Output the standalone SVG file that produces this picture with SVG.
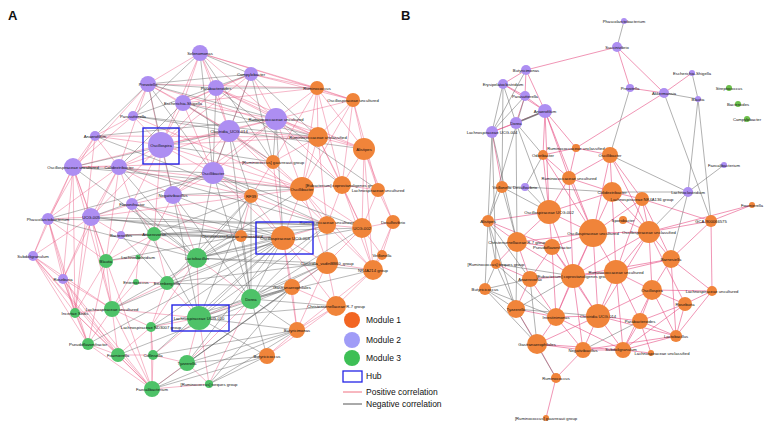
<svg xmlns="http://www.w3.org/2000/svg" width="767" height="426" viewBox="0 0 767 426">
<style>
.p{fill:none;stroke:#ec6088;stroke-width:0.7;opacity:0.65}
.n{fill:none;stroke:#666;stroke-width:0.7;opacity:0.65}
.pb{fill:none;stroke:#e8588a;stroke-width:0.8;opacity:0.8}
.nb{fill:none;stroke:#6a6a6a;stroke-width:0.7;opacity:0.75}
.o{fill:#f0843a}
.v{fill:#ad8ef2}
.g{fill:#4ec268}
.gb{fill:#6cc04a}
.t{font-family:"Liberation Sans",Arial,sans-serif;font-size:4.2px;fill:#111;text-anchor:middle}
.hub{fill:none;stroke:#2424e6;stroke-width:1.4}
.lt{font-family:"Liberation Sans",Arial,sans-serif;font-size:8.5px;fill:#111}
.pl{font-family:"Liberation Sans",Arial,sans-serif;font-size:13px;font-weight:bold;fill:#111}
</style>
<rect width="767" height="426" fill="#fff"/>
<text class="pl" x="8" y="20">A</text>
<text class="pl" x="401" y="20">B</text>
<g id="connectors">
<path class="p" d="M200 53L148 84M200 53L183 103M200 53L229 131M200 53L276 119M200 53L161 145M251 74L216 88M251 74L229 131M251 74L276 119M251 74L183 103M216 88L183 103M216 88L161 145M216 88L229 131M216 88L276 119M148 84L183 103M148 84L133 116M148 84L161 145M148 84L229 131M148 84L119 167M183 103L161 145M183 103L229 131M183 103L276 119M183 103L213 173M133 116L161 145M133 116L95 136M133 116L73 167M95 136L161 145M95 136L73 167M95 136L119 167M161 145L229 131M161 145L119 167M161 145L173 195M161 145L213 173M161 145L132 204M161 145L91 217M161 145L276 119M229 131L276 119M229 131L213 173M229 131L173 195M276 119L213 173M276 119L173 195M73 167L119 167M73 167L91 217M73 167L48 219M73 167L161 145M119 167L91 217M119 167L132 204M119 167L173 195M48 219L91 217M48 219L33 256M48 219L119 167M91 217L132 204M91 217L33 256M91 217L63 279M173 195L132 204M173 195L213 173M132 204L121 235M121 235L91 217M33 256L63 279M63 279L119 167M48 219L63 279M73 167L33 256M73 167L63 279M95 136L48 219M229 131L119 167M251 74L161 145M148 84L73 167M200 53L216 88"/>
<path class="p" d="M317 88L353 100M317 88L318 137M317 88L364 149M317 88L302 189M317 88L342 185M353 100L318 137M353 100L364 149M353 100L342 185M353 100L378 190M318 137L364 149M318 137L302 189M318 137L342 185M318 137L327 225M318 137L273 162M364 149L342 185M364 149L378 190M364 149L362 228M364 149L393 222M273 162L302 189M273 162L283 238M273 162L251 196M251 196L302 189M251 196L283 238M251 196L327 225M302 189L342 185M302 189L327 225M302 189L283 238M302 189L362 228M302 189L327 263M342 185L378 190M342 185L327 225M342 185L362 228M342 185L373 270M378 190L393 222M378 190L362 228M393 222L362 228M393 222L373 270M393 222L382 255M327 225L362 228M327 225L283 238M327 225L327 263M327 225L373 270M362 228L373 270M362 228L327 263M362 228L382 255M283 238L327 263M283 238L292 287M283 238L241 236M327 263L373 270M327 263L336 306M327 263L292 287M373 270L336 306M373 270L382 255M292 287L336 306M292 287L297 330M336 306L297 330M336 306L267 356M297 330L267 356M283 238L297 330M241 236L251 196M302 189L373 270M318 137L362 228M364 149L373 270M353 100L302 189M317 88L273 162M373 270L297 330M327 263L297 330M283 238L336 306"/>
<path class="p" d="M200 53L317 88M251 74L317 88M251 74L353 100M216 88L318 137M229 131L318 137M276 119L317 88M276 119L318 137M276 119L364 149M276 119L302 189M276 119L342 185M229 131L302 189M229 131L273 162M213 173L251 196M213 173L302 189M183 103L317 88M148 84L318 137M161 145L318 137M161 145L302 189M216 88L364 149M200 53L353 100M276 119L353 100M229 131L327 225M213 173L283 238M173 195L251 196M119 167L251 196M132 204L241 236M133 116L302 189M73 167L273 162M95 136L318 137M119 167L302 189M91 217L251 196M148 84L317 88"/>
<path class="p" d="M199 318L251 299M199 318L197 258M199 318L167 283M199 318L151 327M199 318L187 363M199 318L209 384M199 318L112 309M251 299L197 258M251 299L209 384M197 258L154 234M197 258L167 283M154 234L106 261M154 234L138 257M154 234L167 283M106 261L138 257M106 261L112 309M106 261L75 313M138 257L136 282M136 282L167 283M136 282L112 309M167 283L151 327M112 309L75 313M112 309L151 327M112 309L88 344M112 309L118 355M75 313L88 344M75 313L118 355M151 327L153 355M151 327L118 355M88 344L118 355M88 344L152 389M118 355L153 355M118 355L152 389M153 355L187 363M153 355L152 389M187 363L152 389M187 363L209 384M152 389L209 384M75 313L152 389M197 258L151 327M251 299L187 363M106 261L88 344M112 309L152 389M151 327L152 389M167 283L112 309M199 318L153 355M154 234L112 309"/>
<path class="p" d="M33 256L75 313M33 256L88 344M33 256L152 389M63 279L75 313M63 279L112 309M63 279L88 344M48 219L106 261M91 217L106 261M91 217L112 309M121 235L106 261M121 235L154 234M132 204L154 234M119 167L106 261M73 167L112 309M73 167L75 313M73 167L152 389M95 136L75 313M48 219L75 313M33 256L112 309M63 279L152 389M63 279L118 355M48 219L88 344M173 195L154 234M173 195L197 258M161 145L154 234M91 217L75 313M33 256L118 355"/>
<path class="n" d="M200 53L251 74M148 84L276 119M251 74L148 84M216 88L148 84M183 103L318 137M216 88L317 88M251 74L273 162M148 84L213 173M133 116L229 131M161 145L273 162M229 131L251 196M73 167L213 173M73 167L229 131M91 217L213 173M48 219L213 173M95 136L276 119M73 167L302 189M133 116L318 137M251 74L213 173M200 53L213 173M216 88L342 185M183 103L273 162M229 131L364 149M276 119L378 190M213 173L362 228M173 195L302 189M213 173L327 225M91 217L283 238M173 195L283 238M132 204L283 238M121 235L283 238M119 167L327 225M91 217L241 236M48 219L327 225M121 235L362 228M91 217L327 225M200 53L133 116M251 74L133 116M148 84L95 136M148 84L173 195M183 103L119 167M216 88L213 173M276 119L273 162M251 74L318 137M200 53L273 162M119 167L197 258M73 167L197 258M48 219L197 258M132 204L197 258M121 235L167 283M95 136L251 196"/>
<path class="n" d="M251 299L283 238M251 299L327 225M251 299L327 263M251 299L292 287M251 299L251 196M251 299L241 236M199 318L283 238M199 318L327 263M199 318L292 287M199 318L251 196M197 258L283 238M197 258L302 189M197 258L327 225M197 258L241 236M197 258L251 196M154 234L241 236M154 234L251 196M167 283L283 238M167 283L292 287M187 363L283 238M187 363L292 287M187 363L267 356M209 384L267 356M209 384L297 330M209 384L292 287M151 327L283 238M153 355L283 238M152 389L267 356M152 389L297 330M118 355L292 287M112 309L241 236M197 258L327 263M251 299L373 270M251 299L336 306M199 318L336 306M187 363L327 263M197 258L373 270M154 234L283 238M167 283L327 263M199 318L297 330M251 299L297 330M251 299L267 356M197 258L362 228M154 234L327 225M112 309L283 238M151 327L292 287M153 355L297 330M199 318L267 356M187 363L297 330M167 283L251 196M106 261L241 236M152 389L292 287M88 344L283 238M251 299L362 228M199 318L327 225M173 195L251 299M213 173L251 299M213 173L197 258M229 131L251 299M276 119L283 238M132 204L199 318M173 195L199 318"/>
<path class="pb" d="M617 47L526 70M617 47L630 88M617 47L664 93M630 88L664 93M664 93L692 73M664 93L576 148M526 70L545 111M526 70L525 96M526 70L503 84M503 84L525 96M503 84L545 111M525 96L516 123M525 96L545 111M516 123L492 132M545 111L492 132M545 111L569 178M545 111L549 212M545 111L543 155M545 111L593 233M545 111L576 148M492 132L502 187"/>
<path class="pb" d="M576 148L543 155M576 148L610 155M576 148L569 178M543 155L569 178M543 155L549 212M610 155L612 192M610 155L569 178M610 155L593 233M610 155L642 199M569 178L549 212M569 178L593 233M569 178L612 192M612 192L593 233M612 192L642 199M612 192L649 232M612 192L549 212M549 212L593 233M549 212L517 242M549 212L552 247M549 212L488 221M488 221L517 242M488 221L552 247M593 233L552 247M593 233L649 232M593 233L573 276M593 233L616 272M593 233L642 199M593 233L517 242M517 242L552 247M517 242L530 279M517 242L573 276M517 242L496 264M552 247L573 276M552 247L530 279M552 247L556 317M642 199L649 232M642 199L711 221M711 221L752 205M711 221L649 232M711 221L712 291M623 220L649 232M649 232L671 259M649 232L616 272M671 259L616 272M671 259L652 290M671 259L712 291M649 232L652 290M573 276L616 272M573 276L556 317M573 276L598 316M573 276L530 279M616 272L598 316M616 272L652 290M616 272L640 321M530 279L516 309M530 279L556 317M516 309L556 317M516 309L537 344M556 317L598 316M556 317L537 344M556 317L583 350M598 316L652 290M598 316L640 321M598 316L583 350M598 316L623 350M652 290L685 304M652 290L640 321M712 291L685 304M712 291L652 290M685 304L640 321M685 304L676 336M640 321L676 336M640 321L623 350M640 321L651 353M676 336L623 350M623 350L651 353M623 350L583 350M537 344L583 350M537 344L556 378M583 350L556 378M556 378L546 418M496 264L530 279M671 259L573 276M649 232L573 276M652 290L676 336M712 291L676 336M752 205L649 232M593 233L598 316M593 233L556 317M549 212L573 276M552 247L598 316M573 276L583 350M616 272L623 350M598 316L537 344M537 344L623 350M685 304L623 350M676 336L583 350M652 290L623 350M556 317L623 350M598 316L676 336M671 259L676 336M642 199L671 259M642 199L616 272M612 192L616 272M610 155L649 232M543 155L593 233M569 178L573 276M711 221L671 259M649 232L685 304M649 232L598 316"/>
<path class="nb" d="M624 21L617 47M664 93L698 99M692 73L698 99M630 88L610 155M664 93L711 221M698 99L688 192M503 84L492 132M503 84L516 123M525 96L492 132M526 70L492 132M492 132L488 221M503 84L502 187M516 123L543 155M516 123L549 212M516 123L517 242M492 132L517 242M525 96L488 221M688 192L724 165M688 192L610 155M688 192L649 232M688 192L671 259M688 192L612 192M525 187L543 155M525 187L612 192M525 187L502 187M525 187L549 212M502 187L488 221M502 187L517 242M502 187L549 212M488 221L496 264M488 221L485 289M496 264L485 289M485 289L516 309M485 289L537 344M496 264L573 276M485 289L530 279M516 309L573 276M516 309L598 316M556 378L516 309M485 289L556 317M496 264L516 309M488 221L516 309M496 264L556 317M640 321L583 350M698 99L711 221M488 221L530 279M492 132L496 264M517 242L516 309M530 279L537 344"/>
<path d="M545 111L516 123" fill="none" stroke="#666" stroke-width="1.6" opacity="0.8"/>
</g>
<g id="nodes-a">
<g id="a1"><circle class="v" cx="200" cy="53" r="8"/><text class="t" x="200" y="54.5">Selenomonas</text></g>
<g id="a2"><circle class="v" cx="251" cy="74" r="7"/><text class="t" x="251" y="75.5">Campylobacter</text></g>
<g id="a3"><circle class="v" cx="216" cy="88" r="8"/><text class="t" x="216" y="89.5">Parabacteroides</text></g>
<g id="a4"><circle class="v" cx="148" cy="84" r="8"/><text class="t" x="148" y="85.5">Prevotella</text></g>
<g id="a5"><circle class="v" cx="183" cy="103" r="8"/><text class="t" x="183" y="104.5">Escherichia-Shigella</text></g>
<g id="a6"><circle class="v" cx="133" cy="116" r="5"/><text class="t" x="133" y="117.5">Parasutterella</text></g>
<g id="a7"><circle class="v" cx="95" cy="136" r="5"/><text class="t" x="95" y="137.5">Anaerofilum</text></g>
<g id="a8"><circle class="v" cx="161" cy="145" r="13"/><text class="t" x="161" y="146.5">Oscillospira</text><rect class="hub" x="143" y="128" width="36" height="36"/></g>
<g id="a9"><circle class="v" cx="229" cy="131" r="11"/><text class="t" x="229" y="132.5">Clostridia_UCG-014</text></g>
<g id="a10"><circle class="v" cx="276" cy="119" r="11"/><text class="t" x="276" y="120.5">Ruminococcaceae uncultured</text></g>
<g id="a11"><circle class="v" cx="73" cy="167" r="9"/><text class="t" x="73" y="168.5">Oscillospiraceae uncultured</text></g>
<g id="a12"><circle class="v" cx="119" cy="167" r="8"/><text class="t" x="119" y="168.5">Colidextribacter</text></g>
<g id="a13"><circle class="v" cx="48" cy="219" r="6"/><text class="t" x="48" y="220.5">Phascolarctobacterium</text></g>
<g id="a14"><circle class="v" cx="91" cy="217" r="9"/><text class="t" x="91" y="218.5">UCG-005</text></g>
<g id="a15"><circle class="v" cx="173" cy="195" r="9"/><text class="t" x="173" y="196.5">Negativibacillus</text></g>
<g id="a16"><circle class="v" cx="132" cy="204" r="6"/><text class="t" x="132" y="205.5">Flavonifractor</text></g>
<g id="a17"><circle class="v" cx="121" cy="235" r="4"/><text class="t" x="121" y="236.5">Bacteroides</text></g>
<g id="a18"><circle class="v" cx="33" cy="256" r="5"/><text class="t" x="33" y="257.5">Subdoligranulum</text></g>
<g id="a19"><circle class="v" cx="63" cy="279" r="5"/><text class="t" x="63" y="280.5">Roseburia</text></g>
<g id="a20"><circle class="v" cx="213" cy="173" r="11"/><text class="t" x="213" y="174.5">Oscillibacter</text></g>
<g id="b1"><circle class="o" cx="317" cy="88" r="7"/><text class="t" x="317" y="89.5">Ruminococcus</text></g>
<g id="b2"><circle class="o" cx="353" cy="100" r="7"/><text class="t" x="353" y="101.5">Oscillospiraceae uncultured</text></g>
<g id="b3"><circle class="o" cx="318" cy="137" r="10"/><text class="t" x="318" y="138.5">Ruminococcaceae unclassified</text></g>
<g id="b4"><circle class="o" cx="364" cy="149" r="11"/><text class="t" x="364" y="150.5">Alistipes</text></g>
<g id="b5"><circle class="o" cx="273" cy="162" r="7"/><text class="t" x="273" y="163.5">[Ruminococcus] gauvreauii group</text></g>
<g id="b6"><circle class="o" cx="251" cy="196" r="7"/><text class="t" x="251" y="197.5">RF39</text></g>
<g id="b7"><circle class="o" cx="302" cy="189" r="12"/><text class="t" x="302" y="190.5">Oscillibacter</text></g>
<g id="b8"><circle class="o" cx="342" cy="185" r="9"/><text class="t" x="342" y="186.5">[Eubacterium] coprostanoligenes group</text></g>
<g id="b9"><circle class="o" cx="378" cy="190" r="7"/><text class="t" x="378" y="191.5">Lachnospiraceae uncultured</text></g>
<g id="b10"><circle class="o" cx="393" cy="222" r="7"/><text class="t" x="393" y="223.5">Desulfovibrio</text></g>
<g id="b11"><circle class="o" cx="327" cy="225" r="9"/><text class="t" x="327" y="224">Ruminococcaceae uncultured</text></g>
<g id="b12"><circle class="o" cx="362" cy="228" r="10"/><text class="t" x="362" y="229.5">UCG-002</text></g>
<g id="b13"><circle class="o" cx="283" cy="238" r="12"/><text class="t" x="285" y="239.5">Oscillospiraceae UCG-003</text><rect class="hub" x="256" y="222" width="57" height="32"/></g>
<g id="b14"><circle class="o" cx="241" cy="236" r="6"/><text class="t" x="232" y="237.5">Christensenellaceae unclassified</text></g>
<g id="b15"><circle class="o" cx="327" cy="263" r="11"/><text class="t" x="327" y="264.5">Clostridia_vadinBB60_group</text></g>
<g id="b16"><circle class="o" cx="373" cy="270" r="10"/><text class="t" x="373" y="271.5">NK4A214 group</text></g>
<g id="b17"><circle class="o" cx="292" cy="287" r="8"/><text class="t" x="292" y="288.5">Gastranaerophilales</text></g>
<g id="b18"><circle class="o" cx="336" cy="306" r="10"/><text class="t" x="336" y="307.5">Christensenellaceae R-7 group</text></g>
<g id="b19"><circle class="o" cx="297" cy="330" r="8"/><text class="t" x="297" y="331.5">Butyricimonas</text></g>
<g id="b20"><circle class="o" cx="267" cy="356" r="8"/><text class="t" x="267" y="357.5">Butyricicoccus</text></g>
<g id="b21"><circle class="o" cx="382" cy="255" r="5"/><text class="t" x="382" y="256.5">Veillonella</text></g>
<g id="c1"><circle class="g" cx="199" cy="318" r="12"/><text class="t" x="199" y="319.5">Lachnospiraceae UCG-010</text><rect class="hub" x="172" y="305" width="57" height="26"/></g>
<g id="c2"><circle class="g" cx="251" cy="299" r="10"/><text class="t" x="251" y="300.5">Dorea</text></g>
<g id="c3"><circle class="g" cx="197" cy="258" r="10"/><text class="t" x="197" y="259.5">Lactobacillus</text></g>
<g id="c4"><circle class="g" cx="154" cy="234" r="7"/><text class="t" x="154" y="235.5">Anaerovorax</text></g>
<g id="c5"><circle class="g" cx="106" cy="261" r="7"/><text class="t" x="106" y="262.5">Blautia</text></g>
<g id="c6"><circle class="g" cx="138" cy="257" r="2.5"/><text class="t" x="138" y="258.5">Lachnoclostridium</text></g>
<g id="c7"><circle class="g" cx="136" cy="282" r="3"/><text class="t" x="136" y="283.5">Enterococcus</text></g>
<g id="c8"><circle class="g" cx="167" cy="283" r="7"/><text class="t" x="167" y="284.5">Eisenbergiella</text></g>
<g id="c9"><circle class="g" cx="112" cy="309" r="8"/><text class="t" x="112" y="310.5">Lachnospiraceae uncultured</text></g>
<g id="c10"><circle class="g" cx="75" cy="313" r="5"/><text class="t" x="75" y="314.5">Incertae Sedis</text></g>
<g id="c11"><circle class="g" cx="151" cy="327" r="5"/><text class="t" x="151" y="328.5">Lachnospiraceae ND3007 group</text></g>
<g id="c12"><circle class="g" cx="88" cy="344" r="6"/><text class="t" x="88" y="345.5">Pseudoflavonifractor</text></g>
<g id="c13"><circle class="g" cx="118" cy="355" r="7"/><text class="t" x="118" y="356.5">Fournierella</text></g>
<g id="c14"><circle class="g" cx="153" cy="355" r="5"/><text class="t" x="153" y="356.5">Collinsella</text></g>
<g id="c15"><circle class="g" cx="187" cy="363" r="8"/><text class="t" x="187" y="364.5">Tyzzerella</text></g>
<g id="c16"><circle class="g" cx="152" cy="389" r="8"/><text class="t" x="152" y="390.5">Faecalibacterium</text></g>
<g id="c17"><circle class="g" cx="209" cy="384" r="4"/><text class="t" x="209" y="385.5">[Ruminococcus] torques group</text></g>
</g>
<g id="nodes-b">
<g id="d1"><circle class="v" cx="624" cy="21" r="3"/><text class="t" x="624" y="22.5">Phascolarctobacterium</text></g>
<g id="d2"><circle class="v" cx="617" cy="47" r="5"/><text class="t" x="617" y="48.5">Succinivibrio</text></g>
<g id="d3"><circle class="v" cx="526" cy="70" r="5"/><text class="t" x="526" y="71.5">Butyricimonas</text></g>
<g id="d4"><circle class="v" cx="503" cy="84" r="5"/><text class="t" x="503" y="85.5">Erysipelatoclostridium</text></g>
<g id="d5"><circle class="v" cx="525" cy="96" r="5"/><text class="t" x="525" y="97.5">Parasutterella</text></g>
<g id="d6"><circle class="v" cx="545" cy="111" r="7"/><text class="t" x="545" y="112.5">Anaerofilum</text></g>
<g id="d7"><circle class="v" cx="516" cy="123" r="6"/><text class="t" x="516" y="124.5">Dorea</text></g>
<g id="d8"><circle class="v" cx="492" cy="132" r="6"/><text class="t" x="492" y="133.5">Lachnospiraceae UCG-004</text></g>
<g id="d9"><circle class="v" cx="630" cy="88" r="4"/><text class="t" x="630" y="89.5">Prevotella</text></g>
<g id="d10"><circle class="v" cx="692" cy="73" r="3"/><text class="t" x="692" y="74.5">Escherichia-Shigella</text></g>
<g id="d11"><circle class="v" cx="664" cy="93" r="5"/><text class="t" x="664" y="94.5">Akkermansia</text></g>
<g id="d12"><circle class="v" cx="698" cy="99" r="3"/><text class="t" x="698" y="100.5">Blautia</text></g>
<g id="d13"><circle class="gb" cx="729" cy="88" r="3"/><text class="t" x="729" y="89.5">Streptococcus</text></g>
<g id="d14"><circle class="gb" cx="738" cy="104" r="3"/><text class="t" x="738" y="105.5">Bacteroides</text></g>
<g id="d15"><circle class="gb" cx="747" cy="119" r="3"/><text class="t" x="747" y="120.5">Campylobacter</text></g>
<g id="d16"><circle class="v" cx="525" cy="187" r="4"/><text class="t" x="525" y="188.5">Desulfovibrio</text></g>
<g id="d17"><circle class="v" cx="688" cy="192" r="5"/><text class="t" x="688" y="193.5">Lachnoclostridium</text></g>
<g id="d18"><circle class="v" cx="724" cy="165" r="3"/><text class="t" x="724" y="166.5">Faecalibacterium</text></g>
<g id="e1"><circle class="o" cx="576" cy="148" r="4"/><text class="t" x="576" y="149.5">Ruminococcaceae unclassified</text></g>
<g id="e2"><circle class="o" cx="543" cy="155" r="5"/><text class="t" x="543" y="156.5">Odoribacter</text></g>
<g id="e3"><circle class="o" cx="610" cy="155" r="8"/><text class="t" x="610" y="156.5">Oscillibacter</text></g>
<g id="e4"><circle class="o" cx="569" cy="178" r="7"/><text class="t" x="569" y="179.5">Ruminococcaceae uncultured</text></g>
<g id="e5"><circle class="o" cx="502" cy="187" r="6"/><text class="t" x="502" y="188.5">Veillonella</text></g>
<g id="e6"><circle class="o" cx="612" cy="192" r="10"/><text class="t" x="612" y="193.5">Colidextribacter</text></g>
<g id="e7"><circle class="o" cx="549" cy="212" r="12"/><text class="t" x="549" y="213.5">Oscillospiraceae UCG-002</text></g>
<g id="e8"><circle class="o" cx="488" cy="221" r="6"/><text class="t" x="488" y="222.5">Alistipes</text></g>
<g id="e9"><circle class="o" cx="593" cy="233" r="14"/><text class="t" x="593" y="234.5">Oscillospiraceae uncultured</text></g>
<g id="e10"><circle class="o" cx="517" cy="242" r="10"/><text class="t" x="517" y="243.5">Christensenellaceae R-7 group</text></g>
<g id="e11"><circle class="o" cx="552" cy="247" r="8"/><text class="t" x="552" y="248.5">Pseudoflavonifractor</text></g>
<g id="e12"><circle class="o" cx="642" cy="199" r="7"/><text class="t" x="642" y="200.5">Lachnospiraceae NK4A136 group</text></g>
<g id="e13"><circle class="o" cx="752" cy="205" r="3"/><text class="t" x="752" y="206.5">Fournierella</text></g>
<g id="e14"><circle class="o" cx="711" cy="221" r="6"/><text class="t" x="711" y="222.5">GCA-900066575</text></g>
<g id="e15"><circle class="o" cx="623" cy="220" r="4"/><text class="t" x="623" y="221.5">Sporobacter</text></g>
<g id="e16"><circle class="o" cx="649" cy="232" r="11"/><text class="t" x="649" y="233.5">Oscillospiraceae unclassified</text></g>
<g id="e17"><circle class="o" cx="671" cy="259" r="9"/><text class="t" x="671" y="260.5">Barnesiella</text></g>
<g id="e18"><circle class="o" cx="496" cy="264" r="5"/><text class="t" x="496" y="265.5">[Ruminococcus] torques group</text></g>
<g id="e19"><circle class="o" cx="485" cy="289" r="6"/><text class="t" x="485" y="290.5">Butyricicoccus</text></g>
<g id="e20"><circle class="o" cx="530" cy="279" r="8"/><text class="t" x="530" y="280.5">Anaerovorax</text></g>
<g id="e21"><circle class="o" cx="573" cy="276" r="12"/><text class="t" x="573" y="277.5">[Eubacterium] coprostanoligenes group</text></g>
<g id="e22"><circle class="o" cx="616" cy="272" r="12"/><text class="t" x="616" y="273.5">Ruminococcaceae uncultured</text></g>
<g id="e23"><circle class="o" cx="516" cy="309" r="9"/><text class="t" x="516" y="310.5">Tyzzerella</text></g>
<g id="e24"><circle class="o" cx="556" cy="317" r="9"/><text class="t" x="556" y="318.5">Intestinimonas</text></g>
<g id="e25"><circle class="o" cx="598" cy="316" r="12"/><text class="t" x="598" y="317.5">Clostridia UCG-014</text></g>
<g id="e26"><circle class="o" cx="652" cy="290" r="10"/><text class="t" x="652" y="291.5">Oscillospira</text></g>
<g id="e27"><circle class="o" cx="712" cy="291" r="5"/><text class="t" x="712" y="292.5">Lachnospiraceae uncultured</text></g>
<g id="e28"><circle class="o" cx="685" cy="304" r="7"/><text class="t" x="685" y="305.5">Roseburia</text></g>
<g id="e29"><circle class="o" cx="640" cy="321" r="8"/><text class="t" x="640" y="322.5">Parabacteroides</text></g>
<g id="e30"><circle class="o" cx="676" cy="336" r="6"/><text class="t" x="676" y="337.5">Lactobacillus</text></g>
<g id="e31"><circle class="o" cx="623" cy="350" r="8"/><text class="t" x="621" y="350.5">Subdoligranulum</text></g>
<g id="e32"><circle class="o" cx="651" cy="353" r="3"/><text class="t" x="662" y="355">Lachnospiraceae unclassified</text></g>
<g id="e33"><circle class="o" cx="537" cy="344" r="10"/><text class="t" x="537" y="345.5">Gastranaerophilales</text></g>
<g id="e34"><circle class="o" cx="583" cy="350" r="8"/><text class="t" x="583" y="351.5">Negativibacillus</text></g>
<g id="e35"><circle class="o" cx="556" cy="378" r="5"/><text class="t" x="556" y="379.5">Ruminococcus</text></g>
<g id="e36"><circle class="o" cx="546" cy="418" r="3"/><text class="t" x="546" y="419.5">[Ruminococcus] gauvreauii group</text></g>
</g>
<g id="legend">
<circle cx="352" cy="320" r="8" fill="#f26522"/><text class="lt" x="366" y="323">Module 1</text>
<circle cx="352" cy="340" r="8" fill="#a09cf7"/><text class="lt" x="366" y="343">Module 2</text>
<circle cx="352" cy="358" r="8" fill="#3dbf55"/><text class="lt" x="366" y="361">Module 3</text>
<rect x="343" y="371" width="19" height="11" fill="none" stroke="#2424e6" stroke-width="1.3"/><text class="lt" x="366" y="379">Hub</text>
<line x1="343" y1="392" x2="362" y2="392" stroke="#f07080" stroke-width="1"/><text class="lt" x="366" y="395">Positive correlation</text>
<line x1="343" y1="404" x2="362" y2="404" stroke="#555" stroke-width="1"/><text class="lt" x="366" y="407">Negative correlation</text>
</g>
</svg>
